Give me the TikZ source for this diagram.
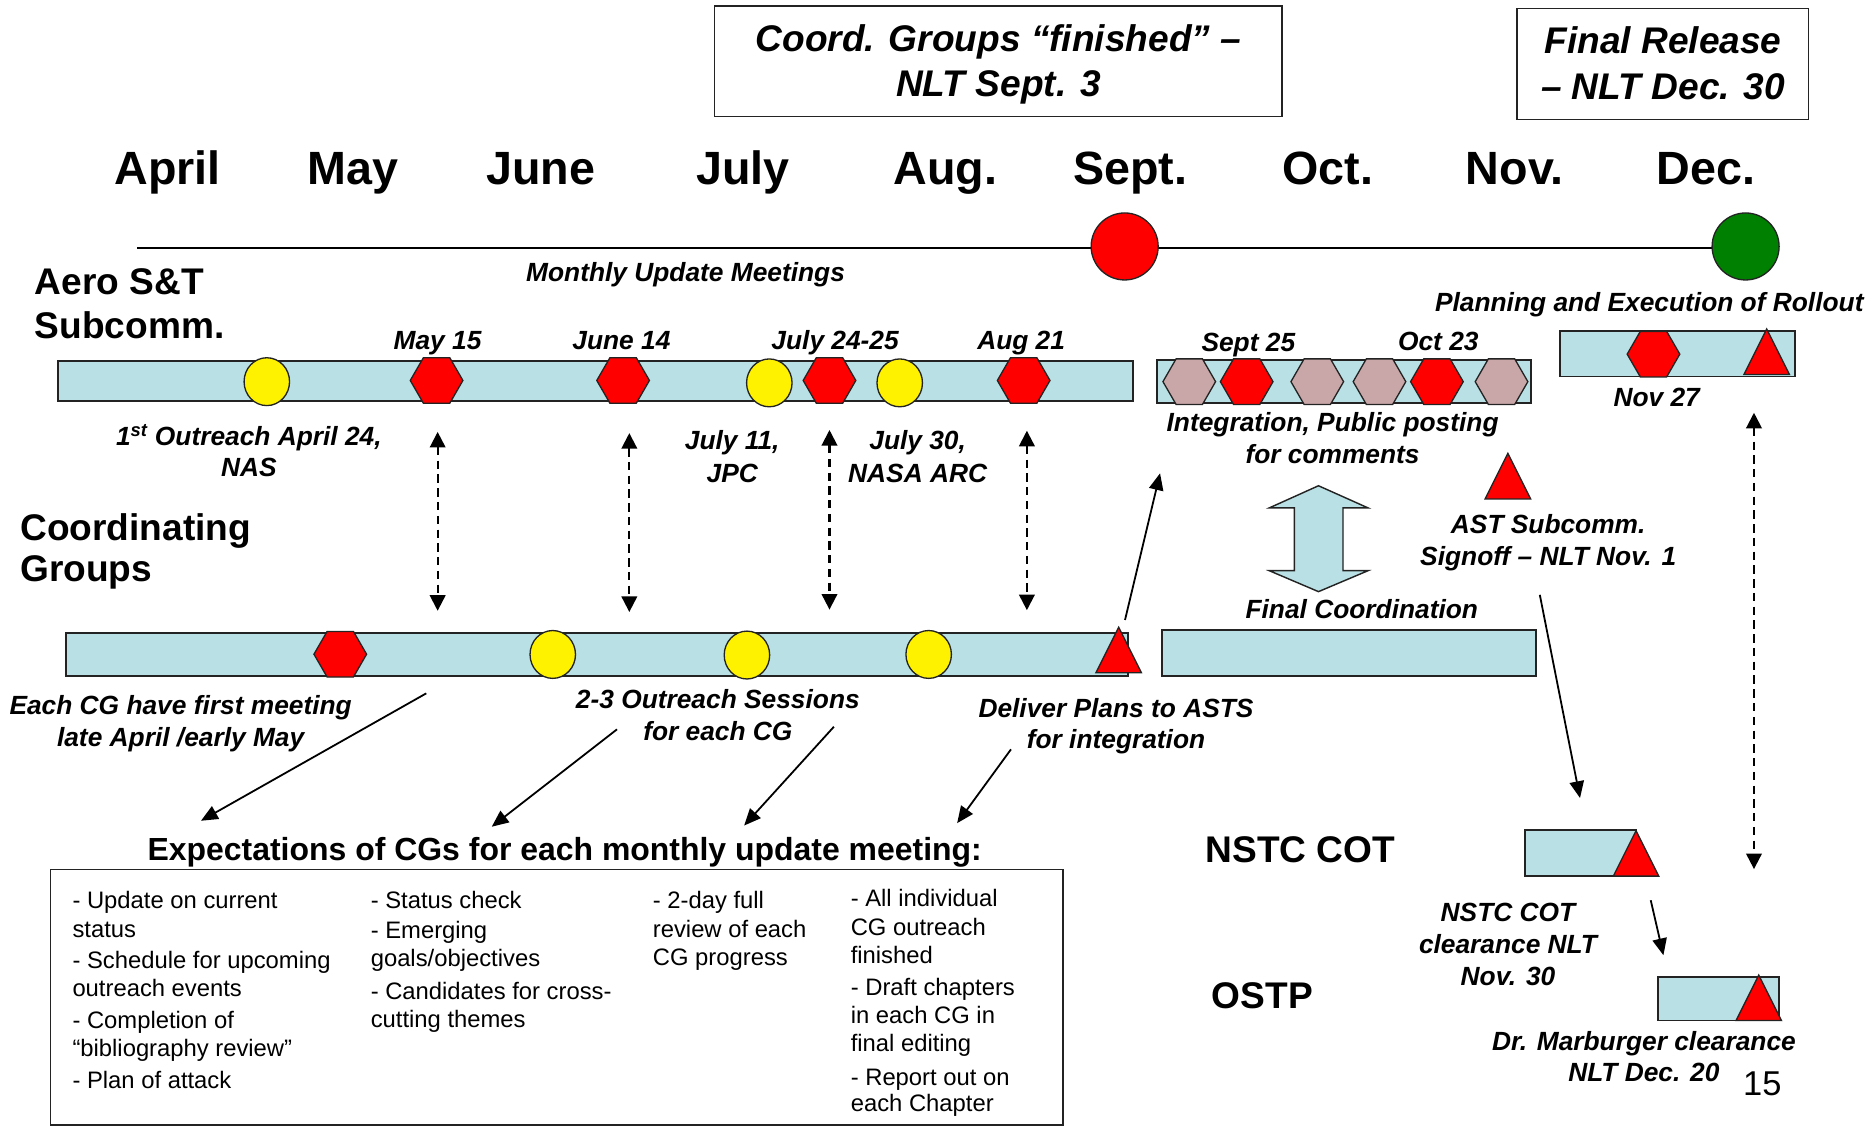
\documentclass[tikz,border=0pt]{standalone}
\usepackage{fontspec}
\setmainfont{Liberation Sans}
\usetikzlibrary{shapes.geometric,arrows.meta}
\definecolor{barblue}{RGB}{185,224,228}
\definecolor{hexpink}{RGB}{201,167,169}
\definecolor{okgreen}{RGB}{0,128,0}
\definecolor{edgegray}{RGB}{35,35,35}
\begin{document}
\begin{tikzpicture}[x=1pt,y=-1pt,
  barbox/.style={draw=edgegray,line width=1.4pt,fill=barblue},
  hexred/.style={regular polygon,regular polygon sides=6,minimum size=44pt,inner sep=0pt,draw=edgegray,line width=1.1pt,fill=red},
  hexpk/.style={hexred,fill=hexpink},
  ydot/.style={ellipse,minimum width=38pt,minimum height=40pt,inner sep=0pt,draw=edgegray,line width=1.1pt,fill=yellow},
  bigdot/.style={circle,minimum size=56pt,inner sep=0pt,draw=edgegray,line width=1.1pt},
  tri/.pic={\draw[draw=edgegray,line width=1.1pt,fill=red] (-19,19) -- (0,-19) -- (19,19) -- cycle;},
  month/.style={font=\fontsize{39}{44}\selectfont\bfseries,anchor=base,inner sep=0pt},
  lab/.style={font=\fontsize{22}{26}\selectfont\bfseries\itshape,anchor=base,inner sep=0pt},
  boxlab/.style={font=\fontsize{31}{36}\selectfont\bfseries\itshape,anchor=base,inner sep=0pt},
  rowlab/.style={font=\fontsize{31}{35}\selectfont\bfseries,anchor=base west,inner sep=0pt},
  biglab/.style={font=\fontsize{31}{35}\selectfont\bfseries,anchor=base,inner sep=0pt},
  listline/.style={font=\fontsize{19.9}{23.7}\selectfont,anchor=base west,inner sep=0pt},
  darr/.style={line width=1.7pt,dash pattern=on 7pt off 4.5pt,{Triangle[length=13pt,width=13pt]}-{Triangle[length=13pt,width=13pt]}},
  sarr/.style={line width=1.5pt,-{Triangle[length=14pt,width=12pt]}},
  outbox/.style={draw=edgegray,line width=1.3pt}
]
\useasboundingbox[fill=white] (0,0) rectangle (1568,942);

% ---------- top boxes ----------
\draw[outbox] (597,5) rectangle (1071.6,97.5);
\node[boxlab] (cgf1) at (834.5,43) {Coord. Groups “finished” –};
\node[boxlab] (cgf2) at (834.5,81) {NLT Sept. 3};
\draw[outbox] (1268,7) rectangle (1511.6,99.7);
\node[boxlab] (fr1) at (1390,44.6) {Final Release};
\node[boxlab] (fr2) at (1390,83) {– NLT Dec. 30};

% ---------- months ----------
\foreach \m/\x [count=\i] in {April/140,May/295,June/452,July/621,Aug./790,Sept./944.5,Oct./1110,Nov./1266,Dec./1426}
  \node[month] (mon\i) at (\x,154) {\m};

% ---------- timeline ----------
\coordinate (tl0) at (114.6,207.6);
\coordinate (tl1) at (1459,207.6);
\draw[line width=1.6pt,black] (tl0) -- (tl1);
\node[bigdot,fill=red] (sepdot) at (940,206) {};
\node[bigdot,fill=okgreen] (decdot) at (1459,206) {};

% ---------- row labels ----------
\node[rowlab] (aero1) at (29,246) {Aero S\&T};
\node[rowlab] (aero2) at (29,282.6) {Subcomm.};
\node[rowlab] (coor1) at (16.8,451.4) {Coordinating};
\node[rowlab] (coor2) at (16.8,486.2) {Groups};
\node[biglab] (nstc) at (1087,721) {NSTC COT};
\node[biglab] (ostp) at (1055,843) {OSTP};

% ---------- bars ----------
\draw[barbox] (48.5,301.5) rectangle (947,335);
\draw[barbox] (966.8,300.9) rectangle (1279.4,336.6);
\draw[barbox] (1304,276.7) rectangle (1500,314.8);
\draw[barbox] (55.2,528.8) rectangle (942.6,565);
\draw[barbox] (971.3,526.6) rectangle (1283.9,565);
\draw[barbox] (1274.4,694) rectangle (1367.4,732);
\draw[barbox] (1385.8,816.6) rectangle (1487,853);

% ---------- markers on the subcommittee bar ----------
\node[ydot] (y1) at (223,319) {};
\node[hexred] (h1) at (364.9,318) {};
\node[hexred] (h2) at (520.8,318) {};
\node[ydot] (y2) at (643,320) {};
\node[hexred] (h3) at (693.3,318) {};
\node[ydot] (y3) at (752,320) {};
\node[hexred] (h4) at (855.6,318) {};

% integration bar
\node[hexpk]  (i1) at (994,319) {};
\node[hexred] (i2) at (1042,319) {};
\node[hexpk]  (i3) at (1101,319) {};
\node[hexpk]  (i4) at (1153,319) {};
\node[hexred] (i5) at (1201,319) {};
\node[hexpk]  (i6) at (1255,319) {};

% rollout bar
\node[hexred] (r1) at (1382,296) {};
\pic (rt) at (1476.6,294) {tri};

% AST signoff triangle
\pic (astt) at (1260.3,398) {tri};

% CG bar
\node[hexred] (g1) at (284.4,546.8) {};
\node[ydot] (g2) at (462,547) {};
\node[ydot] (g3) at (624.3,547.5) {};
\node[ydot] (g4) at (776.2,547) {};
\pic (cgt) at (935,543.3) {tri};

% NSTC / OSTP triangles
\pic (nt) at (1367.4,713.3) {tri};
\pic (ot) at (1470,834) {tri};

% ---------- block double arrow ----------
\draw[line width=1.2pt,draw=edgegray,fill=barblue] (1102,406) -- (1143.4,424.5) -- (1122.5,424.5) -- (1122.5,477) -- (1143.4,477) -- (1102,494.5) -- (1060.9,477) -- (1081.8,477) -- (1081.8,424.5) -- (1060.9,424.5) -- cycle;

% ---------- labels ----------
\node[lab] (mum) at (573,235.4) {Monthly Update Meetings};
\node[lab] (per) at (1378.5,260.5) {Planning and Execution of Rollout};
\node[lab] (l15) at (365.7,292) {May 15};
\node[lab] (l14) at (519.4,292) {June 14};
\node[lab] (l24) at (698,292) {July 24-25};
\node[lab] (l21) at (853.5,292) {Aug 21};
\node[lab] (ls25) at (1043.4,294) {Sept 25};
\node[lab] (lo23) at (1202.2,293) {Oct 23};
\node[lab] (ln27) at (1384.7,340) {Nov 27};
\node[lab] (out1) at (208,372) {1\textsuperscript{st} Outreach April 24,};
\node[lab] (out2) at (208,398.4) {NAS};
\node[lab] (j11a) at (612,376) {July 11,};
\node[lab] (j11b) at (612,403) {JPC};
\node[lab] (j30a) at (767,376) {July 30,};
\node[lab] (j30b) at (767,403) {NASA ARC};
\node[lab] (int1) at (1113.8,360.8) {Integration, Public posting};
\node[lab] (int2) at (1113.8,387.3) {for comments};
\node[lab] (ast1) at (1294,446) {AST Subcomm.};
\node[lab] (ast2) at (1294,473) {Signoff – NLT Nov. 1};
\node[lab] (fc) at (1138.2,516.8) {Final Coordination};
\node[lab] (ea1) at (151,597.6) {Each CG have first meeting};
\node[lab] (ea2) at (151,624) {late April /early May};
\node[lab] (os1) at (600,591.8) {2-3 Outreach Sessions};
\node[lab] (os2) at (600,618.5) {for each CG};
\node[lab] (dp1) at (932.8,599.4) {Deliver Plans to ASTS};
\node[lab] (dp2) at (932.8,626) {for integration};
\node[lab] (nc1) at (1260.4,770.6) {NSTC COT};
\node[lab] (nc2) at (1260.4,797.3) {clearance NLT};
\node[lab] (nc3) at (1260.4,824) {Nov. 30};
\node[lab] (dm1) at (1374,877.7) {Dr. Marburger clearance};
\node[lab] (dm2) at (1374,903.6) {NLT Dec. 20};
\node[font=\fontsize{28.8}{32}\selectfont,anchor=base,inner sep=0pt] (pg) at (1473,915.8) {15};

% ---------- dashed two-way arrows ----------
\coordinate (d1a) at (365.8,361);   \coordinate (d1b) at (365.8,510.5);
\coordinate (d2a) at (526,362);     \coordinate (d2b) at (526,511.5);
\coordinate (d3a) at (693.3,359.4); \coordinate (d3b) at (693.3,509.5);
\coordinate (d4a) at (858.3,360);   \coordinate (d4b) at (858.3,510);
\coordinate (d5a) at (1466,345);    \coordinate (d5b) at (1466,726.4);
\draw[darr] (d1a) -- (d1b);
\draw[darr] (d2a) -- (d2b);
\draw[darr] (d3a) -- (d3b);
\draw[darr] (d4a) -- (d4b);
\draw[darr] (d5a) -- (d5b);

% ---------- solid arrows ----------
\coordinate (s1a) at (356.3,579.5); \coordinate (s1b) at (168,686);
\coordinate (s2a) at (515.7,609.6); \coordinate (s2b) at (411,691);
\coordinate (s3a) at (697,607.4);   \coordinate (s3b) at (622,690);
\coordinate (s4a) at (845,626.3);   \coordinate (s4b) at (800,688);
\coordinate (s5a) at (940.3,518.2); \coordinate (s5b) at (969.6,395.6);
\coordinate (s6a) at (1287,497.2);  \coordinate (s6b) at (1320.6,667);
\coordinate (s7a) at (1379.7,752.4);\coordinate (s7b) at (1390.3,798.4);
\draw[sarr] (s1a) -- (s1b);
\draw[sarr] (s2a) -- (s2b);
\draw[sarr] (s3a) -- (s3b);
\draw[sarr] (s4a) -- (s4b);
\draw[sarr] (s5a) -- (s5b);
\draw[sarr] (s6a) -- (s6b);
\draw[sarr] (s7a) -- (s7b);

% ---------- expectations ----------
\node[font=\fontsize{26.7}{30}\selectfont\bfseries,anchor=base,inner sep=0pt] (exp) at (472,718.8) {Expectations of CGs for each monthly update meeting:};
\draw[outbox] (42.2,726.6) rectangle (888.6,940.3);

\foreach \y/\t [count=\i] in {759.6/- Update on current, 783.3/status, 809.4/- Schedule for upcoming, 833/outreach events, 859.5/- Completion of, 883.2/“bibliography review”, 909.7/- Plan of attack}
  \node[listline] (ca\i) at (60.4,\y) {\t};
\foreach \y/\t [count=\i] in {759.6/- Status check, 784.3/- Emerging, 808/{goals/objectives}, 835/- Candidates for cross-, 859/cutting themes}
  \node[listline] (cb\i) at (309.7,\y) {\t};
\foreach \y/\t [count=\i] in {759.6/- 2-day full, 783.3/review of each, 807/CG progress}
  \node[listline] (cc\i) at (545.5,\y) {\t};
\foreach \y/\t [count=\i] in {757.8/- All individual, 781.5/CG outreach, 805.2/finished, 831.7/- Draft chapters, 855.3/in each CG in, 879/final editing, 906.9/- Report out on, 929.2/each Chapter}
  \node[listline] (cd\i) at (710.9,\y) {\t};
\end{tikzpicture}
\end{document}
